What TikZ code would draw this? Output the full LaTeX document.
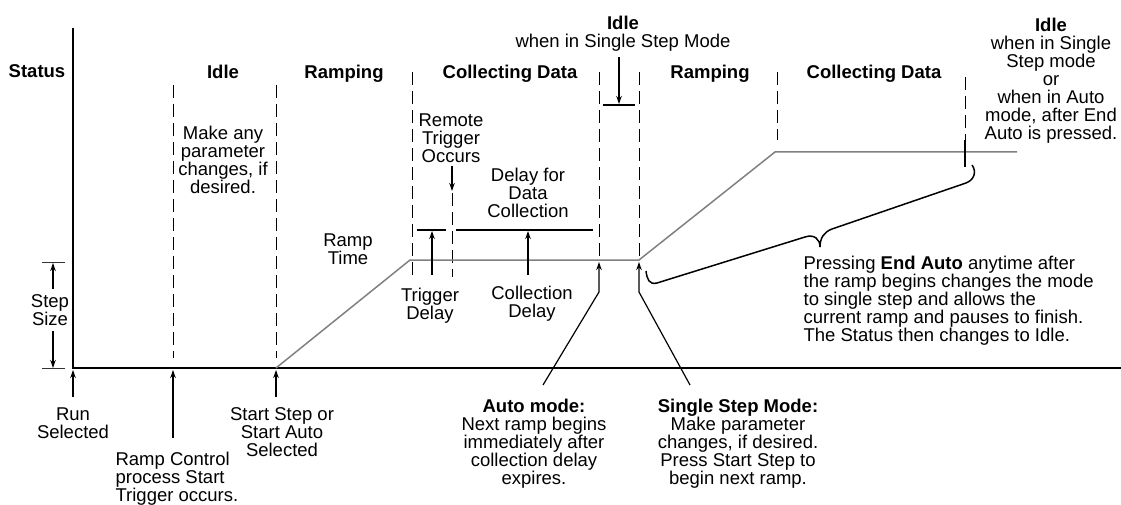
\documentclass[tikz,border=0pt]{standalone}
\usepackage{fontspec}
\setmainfont{Liberation Sans}
\usetikzlibrary{arrows.meta}

\begin{document}
\begin{tikzpicture}[x=1pt,y=-1pt,>={Stealth[length=8pt,width=5.5pt]},line width=1.2pt,
  every node/.style={inner sep=0pt,anchor=north,align=center,font=\fontsize{18.5}{18}\selectfont},
  hdr/.style={font=\fontsize{18.5}{18}\selectfont\bfseries},
  phase/.style={dash pattern=on 13pt off 6pt,line width=0.8pt},
  level/.style={draw=black!50,line width=1.5pt},
  bar/.style={line width=1.5pt}]
\useasboundingbox (0,0) rectangle (1121,505);
\def\yb{368}
\def\yp{260}
\def\yq{152}
% ---- axes, phase borders and the set point ----
\draw[line width=1.8pt] (73,28) -- (73,\yb) -- (1121,\yb);
\foreach \x/\ya/\yz in {173/85/358,276/85/358,412/72/277,452/193/277,599/72/256,639/72/256,777/72/140,965/77/140}{
  \draw[phase] (\x,\ya) -- (\x,\yz);}
\draw[level] (276,\yb) -- (410,\yp) -- (639,\yp) -- (775,\yq) -- (1017,\yq);
\draw[line width=2.6pt] (965,140) -- (965,167);
% ---- step size ----
\draw[line width=1pt,black!80] (42,262) -- (65,262) (42,\yb) -- (65,\yb);
\node[inner sep=5pt,anchor=center] (step) at (50,310) {Step\\Size};
\coordinate (sztop) at (53,263);
\coordinate (szbot) at (53,\yb);
\draw[->] (step.north -| sztop) -- (sztop);
\draw[->] (step.south -| szbot) -- (szbot);
% ---- phase headings ----
\node[hdr] (status) at (37,64) {Status};
\node[hdr] (idle1) at (223,64) {Idle};
\node[hdr] (ramp1) at (344,64) {Ramping};
\node[hdr] (coll1) at (510,64) {Collecting Data};
\node[hdr] (ramp2) at (710,64) {Ramping};
\node[hdr] (coll2) at (874,64) {Collecting Data};
\node (idle2) at (623,15) {\textbf{Idle}\\when in Single Step Mode};
\node (idle3) at (1051,17) {\textbf{Idle}\\when in Single\\Step mode\\or\\when in Auto\\mode, after End\\Auto is pressed.};
% ---- notes inside the plot ----
\node (idlenote) at (223,125) {Make any\\parameter\\changes, if\\desired.};
\node (ramptime) at (348,233) {Ramp\\Time};
\node (remote) at (451,113) {Remote\\Trigger\\Occurs};
\node (dlycoll) at (528,167) {Delay for\\Data\\Collection};
\node (trgdly) at (430,287) {Trigger\\Delay};
\node (colldly) at (532,285) {Collection\\Delay};
\draw[bar] (417,230) -- (446,230);
\draw[bar] (456,230) -- (593,230);
\draw[bar] (603,105) -- (635,105);
\coordinate (trgbar) at (452,191);
\coordinate (idlebar) at (619,104);
\coordinate (tdbar) at (432,231);
\coordinate (cdbar) at (528,231);
\draw[->] (remote.south) ++(1,3) -- (trgbar);
\draw[->] (idle2.south) ++(-4,6) -- (idlebar);
\draw[->] (trgdly.north) ++(2,-12) -- (tdbar);
\draw[->] (colldly.north) ++(-4,-10) -- (cdbar);
% ---- notes below the axis ----
\node (run) at (73,407) {Run\\Selected};
\node[anchor=north west,align=left] (rampctl) at (115,451) {Ramp Control\\process Start\\Trigger occurs.};
\node (start) at (282,407) {Start Step or\\Start Auto\\Selected};
\node (auto) at (534,398) {\textbf{Auto mode:}\\Next ramp begins\\immediately after\\collection delay\\expires.};
\node (single) at (738,398) {\textbf{Single Step Mode:}\\Make parameter\\changes, if desired.\\Press Start Step to\\begin next ramp.};
\coordinate (runpt) at (73,370);
\coordinate (ctlpt) at (173,370);
\coordinate (startpt) at (276,370);
\draw[->] (run.north) ++(0,-10) -- (runpt);
\draw[->] (rampctl.north west) ++(58,-13) -- (ctlpt);
\draw[->] (start.north) ++(-6,-10) -- (startpt);
\draw[->] (auto.north) ++(9,-13) -- (599,292) -- (599,262);
\draw[->] (single.north) ++(-48,-13) -- (639,292) -- (639,262);
% ---- end auto brace ----
\node[anchor=north west,align=left] (endauto) at (803,255) {Pressing \textbf{End Auto} anytime after\\the ramp begins changes the mode\\to single step and allows the\\current ramp and pauses to finish.\\The Status then changes to Idle.};
\draw[line width=1.5pt] (646,271) .. controls (647,279) and (649,285) .. (657,283) -- (805,237)
  .. controls (814,234) and (820,239) .. (820,247)
  .. controls (820,238) and (824,232) .. (832,229) -- (966,183)
  .. controls (974,180) and (977,172) .. (972,165);
\end{tikzpicture}
\end{document}
